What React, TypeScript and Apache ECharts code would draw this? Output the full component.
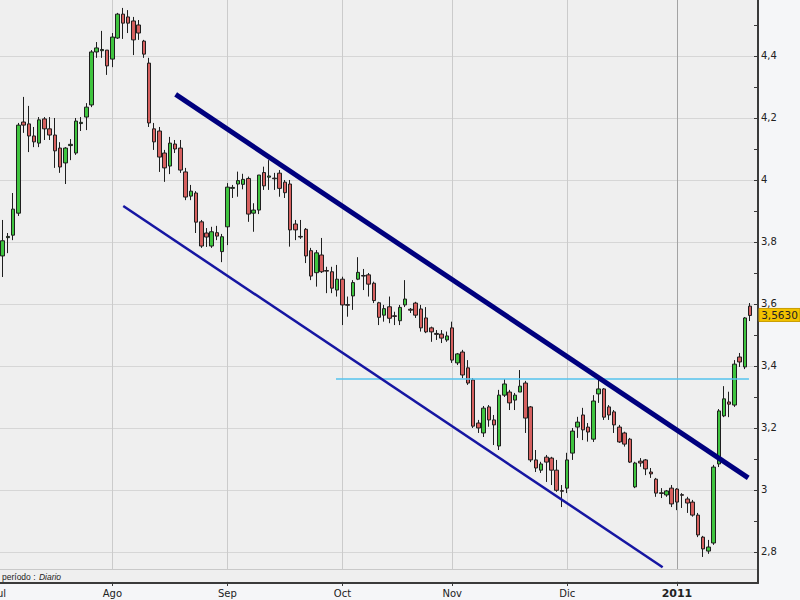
import React, { useEffect, useRef } from 'react';
import * as echarts from 'echarts';

// [open, close, low, high] per trading day, from Jul 2010 to mid Jan 2011
const candles: number[][] = [
  [3.755, 3.804, 3.687, 3.871], [3.814, 3.818, 3.764, 3.829], [3.822, 3.906, 3.806, 3.958], [3.893, 4.177, 3.884, 4.184],
  [4.187, 4.177, 4.152, 4.268], [4.181, 4.142, 4.090, 4.239], [4.142, 4.123, 4.106, 4.171], [4.119, 4.194, 4.106, 4.203],
  [4.197, 4.165, 4.129, 4.203], [4.165, 4.145, 4.129, 4.203], [4.145, 4.094, 4.039, 4.200], [4.103, 4.042, 4.023, 4.122],
  [4.055, 4.103, 3.987, 4.106], [4.111, 4.115, 4.064, 4.132], [4.087, 4.190, 4.081, 4.200], [4.182, 4.186, 4.158, 4.203],
  [4.203, 4.235, 4.161, 4.248], [4.242, 4.413, 4.235, 4.419], [4.413, 4.426, 4.394, 4.445], [4.417, 4.421, 4.394, 4.481],
  [4.419, 4.368, 4.339, 4.419], [4.390, 4.461, 4.364, 4.474], [4.458, 4.535, 4.455, 4.539], [4.535, 4.506, 4.455, 4.555],
  [4.526, 4.506, 4.474, 4.548], [4.513, 4.452, 4.403, 4.526], [4.500, 4.474, 4.452, 4.516], [4.448, 4.406, 4.394, 4.452],
  [4.377, 4.184, 4.171, 4.394], [4.165, 4.123, 4.097, 4.184], [4.158, 4.074, 4.026, 4.171], [4.087, 4.039, 3.994, 4.097],
  [4.045, 4.119, 4.019, 4.139], [4.116, 4.100, 4.087, 4.129], [4.103, 4.032, 4.023, 4.129], [4.026, 3.945, 3.935, 4.039],
  [3.948, 3.964, 3.935, 3.984], [3.958, 3.864, 3.829, 3.964], [3.865, 3.787, 3.781, 3.871], [3.829, 3.816, 3.784, 3.845],
  [3.787, 3.833, 3.781, 3.849], [3.830, 3.819, 3.806, 3.852], [3.769, 3.817, 3.735, 3.826], [3.849, 3.977, 3.790, 3.990],
  [3.973, 3.976, 3.942, 3.984], [3.987, 3.998, 3.946, 4.027], [3.986, 4.002, 3.970, 4.020], [4.005, 3.890, 3.865, 4.011],
  [3.893, 3.903, 3.833, 3.925], [3.903, 4.016, 3.890, 4.016], [4.024, 3.981, 3.968, 4.043], [4.009, 4.013, 3.968, 4.064],
  [4.006, 4.004, 3.968, 4.023], [4.022, 3.973, 3.946, 4.032], [3.993, 3.959, 3.942, 4.000], [3.987, 3.839, 3.785, 4.000],
  [3.858, 3.839, 3.806, 3.871], [3.818, 3.816, 3.810, 3.871], [3.841, 3.755, 3.732, 3.845], [3.772, 3.690, 3.677, 3.781],
  [3.701, 3.765, 3.656, 3.774], [3.758, 3.704, 3.700, 3.813], [3.708, 3.706, 3.635, 3.720], [3.704, 3.651, 3.635, 3.720],
  [3.645, 3.680, 3.624, 3.726], [3.680, 3.597, 3.532, 3.688], [3.598, 3.596, 3.559, 3.624], [3.626, 3.669, 3.581, 3.677],
  [3.680, 3.702, 3.677, 3.751], [3.692, 3.690, 3.645, 3.713], [3.694, 3.664, 3.624, 3.700], [3.667, 3.611, 3.603, 3.672],
  [3.604, 3.557, 3.532, 3.607], [3.564, 3.585, 3.543, 3.597], [3.591, 3.554, 3.538, 3.624], [3.562, 3.560, 3.532, 3.575],
  [3.546, 3.589, 3.532, 3.597], [3.597, 3.616, 3.590, 3.677], [3.583, 3.580, 3.571, 3.587], [3.603, 3.564, 3.555, 3.607],
  [3.584, 3.523, 3.511, 3.597], [3.555, 3.510, 3.506, 3.590], [3.523, 3.510, 3.478, 3.527], [3.505, 3.502, 3.484, 3.516],
  [3.503, 3.490, 3.474, 3.516], [3.484, 3.497, 3.478, 3.511], [3.523, 3.419, 3.410, 3.543], [3.410, 3.439, 3.403, 3.442],
  [3.445, 3.371, 3.361, 3.452], [3.394, 3.345, 3.339, 3.419], [3.355, 3.206, 3.200, 3.361], [3.216, 3.200, 3.184, 3.226],
  [3.184, 3.264, 3.171, 3.271], [3.268, 3.226, 3.204, 3.274], [3.226, 3.210, 3.145, 3.242], [3.142, 3.306, 3.129, 3.323],
  [3.306, 3.342, 3.300, 3.358], [3.316, 3.281, 3.258, 3.323], [3.290, 3.306, 3.258, 3.313], [3.316, 3.335, 3.316, 3.387],
  [3.345, 3.232, 3.184, 3.352], [3.268, 3.097, 3.090, 3.271], [3.097, 3.071, 3.058, 3.129], [3.064, 3.084, 3.055, 3.091],
  [3.106, 3.090, 3.026, 3.113], [3.103, 3.064, 3.016, 3.107], [3.064, 2.999, 2.994, 3.097], [2.998, 2.996, 2.945, 3.016],
  [3.006, 3.097, 2.990, 3.120], [3.119, 3.190, 3.097, 3.200], [3.203, 3.219, 3.168, 3.236], [3.242, 3.194, 3.161, 3.265],
  [3.203, 3.187, 3.156, 3.216], [3.164, 3.287, 3.155, 3.306], [3.310, 3.326, 3.281, 3.355], [3.326, 3.235, 3.226, 3.329],
  [3.268, 3.242, 3.226, 3.274], [3.252, 3.210, 3.184, 3.258], [3.203, 3.155, 3.152, 3.210], [3.184, 3.148, 3.140, 3.188],
  [3.164, 3.090, 3.087, 3.168], [3.010, 3.087, 3.006, 3.091], [3.093, 3.087, 3.075, 3.103], [3.097, 3.068, 3.048, 3.100],
  [3.058, 3.052, 3.039, 3.071], [3.035, 2.990, 2.978, 3.039], [2.991, 2.989, 2.974, 3.006], [2.984, 2.997, 2.978, 3.000],
  [3.006, 2.955, 2.945, 3.016], [3.003, 2.961, 2.935, 3.006], [2.985, 2.983, 2.942, 2.990], [2.971, 2.958, 2.926, 2.978],
  [2.961, 2.919, 2.914, 2.968], [2.919, 2.855, 2.848, 2.926], [2.848, 2.810, 2.784, 2.852], [2.803, 2.816, 2.794, 2.839],
  [2.829, 3.074, 2.823, 3.081], [3.084, 3.255, 3.074, 3.261], [3.239, 3.294, 3.235, 3.335], [3.284, 3.277, 3.235, 3.317],
  [3.274, 3.406, 3.268, 3.419], [3.429, 3.413, 3.397, 3.442], [3.397, 3.555, 3.390, 3.558], [3.593, 3.563, 3.545, 3.603],
];

// month starts (candle index) and their labels
const monthIdx = [21, 43, 65, 86, 108, 129];
const monthNames = ['Ago', 'Sep', 'Oct', 'Nov', 'Dic', '2011'];
const firstMonthName = 'Jul';

// drawn lines, in [candle index, price]
const upperTrend = [[33.1, 4.276], [142.63, 3.039]];
const lowerTrend = [[23.08, 3.916], [126.26, 2.751]];
const resistance = [[63.77, 3.36], [142.77, 3.36]];

const lastPrice = 3.563;
const lastPriceText = '3,5630';
const periodLabel = 'período :';
const periodValue = 'Diario';

export default function App() {
  const ref = useRef<HTMLDivElement>(null);

  useEffect(() => {
    document.body.style.margin = '0';
    const chart = echarts.init(ref.current as HTMLDivElement, null, { renderer: 'svg' });
    const data = candles.map((c, i) => [i, c[0], c[1], c[2], c[3]]);
    const font = 'DejaVu Sans';

    chart.setOption({
      animation: false,
      backgroundColor: '#f5f6f8',
      grid: {
        left: 0,
        right: 42,
        top: 0,
        bottom: 17,
        containLabel: false,
        outerBoundsMode: 'none',
        show: true,
        backgroundColor: '#efefef',
        borderWidth: 0,
      },
      xAxis: {
        type: 'value',
        min: -0.5,
        max: candles.length + 0.5,
        axisLine: { show: true, onZero: false, lineStyle: { color: '#3a3a3a', width: 2 } },
        axisTick: { show: true, customValues: monthIdx, length: 3, lineStyle: { color: '#3a3a3a' } },
        axisLabel: {
          customValues: [-0.5, ...monthIdx],
          margin: 5,
          color: '#222',
          fontFamily: font,
          fontSize: 10,
          formatter: (v: number) => {
            if (Math.abs(v + 0.5) < 1e-6) return firstMonthName;
            const k = monthIdx.indexOf(Math.round(v));
            if (k < 0) return '';
            const name = monthNames[k];
            return k === monthNames.length - 1 ? `{b|${name}}` : name;
          },
          rich: { b: { fontWeight: 'bold', fontSize: 11, fontFamily: font, color: '#222' } },
        },
        splitLine: {
          show: true,
          lineStyle: { color: ['#cbcbcb', '#cbcbcb', '#cbcbcb', '#cbcbcb', '#cbcbcb', '#a3a3a3'], width: 1 },
        },
      },
      yAxis: {
        type: 'value',
        position: 'right',
        min: 2.7,
        max: 4.5806,
        interval: 0.1,
        axisLine: { show: true, onZero: false, lineStyle: { color: '#3a3a3a', width: 2 } },
        axisTick: { show: true, inside: true, length: 4, lineStyle: { color: '#3a3a3a' } },
        axisLabel: {
          margin: 3,
          color: '#222',
          fontFamily: font,
          fontSize: 10,
          showMaxLabel: false,
          formatter: (v: number) => {
            const t = Math.round(v * 10);
            if (Math.abs(v * 10 - t) > 1e-6 || t % 2 !== 0) return '';
            return String(t / 10).replace('.', ',');
          },
        },
        splitLine: { show: true, showMaxLine: false, lineStyle: { color: ['rgba(0,0,0,0)', '#d6d6d6'], width: 1 } },
      },
      series: [
        {
          type: 'candlestick',
          data,
          barWidth: 4,
          itemStyle: {
            color: '#3fc43f',
            color0: '#d6605f',
            borderColor: '#1e1e1e',
            borderColor0: '#1e1e1e',
            borderWidth: 1,
          },
          markLine: {
            silent: true,
            symbol: ['none', 'none'],
            label: { show: false },
            lineStyle: { type: 'solid' },
            emphasis: { disabled: true },
            data: [
              [{ coord: resistance[0], lineStyle: { color: '#55c3ee', width: 1.5, type: 'solid' } }, { coord: resistance[1] }],
              [{ coord: lowerTrend[0], lineStyle: { color: '#1616a2', width: 2.5, type: 'solid' } }, { coord: lowerTrend[1] }],
              [{ coord: upperTrend[0], lineStyle: { color: '#00007e', width: 5, type: 'solid' } }, { coord: upperTrend[1] }],
            ],
          },
        },
      ],
    });

    const py = chart.convertToPixel({ yAxisIndex: 0 }, lastPrice) as number;
    chart.setOption({
      graphic: [
        {
          type: 'rect',
          z: 10,
          shape: { x: 0, y: 569, width: 757, height: 12.5 },
          style: { fill: '#efefef' },
        },
        {
          type: 'line',
          z: 11,
          shape: { x1: 0, y1: 569.5, x2: 757, y2: 569.5 },
          style: { stroke: '#c9c9c9', lineWidth: 1 },
        },
        {
          type: 'text',
          z: 12,
          x: 2,
          y: 577,
          style: {
            text: `{a|${periodLabel}} {b|${periodValue}}`,
            verticalAlign: 'middle',
            rich: {
              a: { fontFamily: 'Liberation Sans', fontSize: 8.5, fill: '#222' },
              b: { fontFamily: 'Liberation Sans', fontSize: 8.5, fontStyle: 'italic', fill: '#222' },
            },
          },
        },
        {
          type: 'rect',
          z: 20,
          shape: { x: 759, y: py - 7, width: 41, height: 13 },
          style: { fill: '#f2c200', stroke: '#c99c00', lineWidth: 1 },
        },
        {
          type: 'text',
          z: 21,
          x: 779.5,
          y: py,
          style: {
            text: lastPriceText,
            align: 'center',
            verticalAlign: 'middle',
            fontFamily: font,
            fontSize: 10.5,
            fill: '#222',
          },
        },
      ],
    });

    return () => chart.dispose();
  }, []);

  return <div ref={ref} style={{ width: 800, height: 600, background: '#f5f6f8' }} />;
}
